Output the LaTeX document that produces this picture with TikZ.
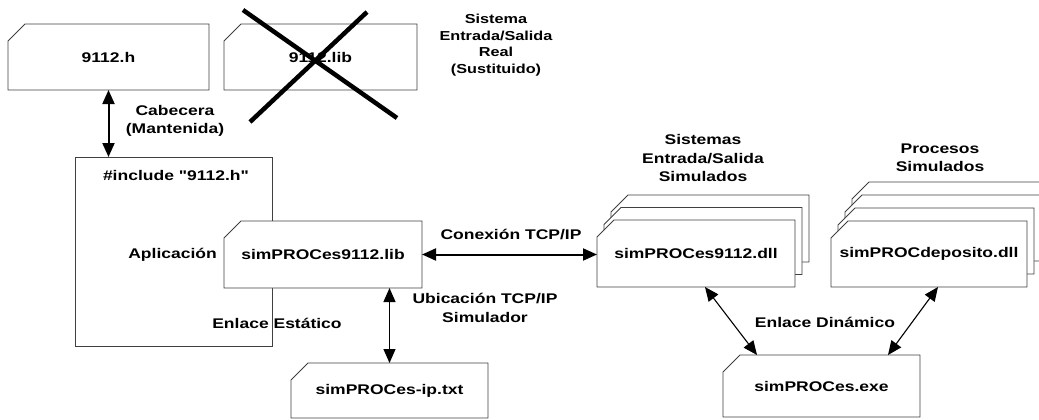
\documentclass[tikz,border=0pt]{standalone}
\usepackage{fontspec}
\setmainfont{Liberation Sans}
\newfontfamily\widefont[FakeStretch=1.25]{Liberation Sans}
\usetikzlibrary{arrows.meta,calc}

\tikzset{
  boxline/.style={draw=black!75, line width=0.9pt, fill=white},
  boxarea/.style={inner sep=0pt, outer sep=0pt},
  lbl/.style={font=\widefont\bfseries\fontsize{14}{18.5}\selectfont, align=center, inner sep=0pt},
  reallbl/.style={font=\widefont\bfseries\fontsize{13}{16.5}\selectfont, align=center, inner sep=0pt},
  bothtips/.style={{Triangle[length=14pt,width=12pt]}-{Triangle[length=14pt,width=12pt]}},
  thickarrow/.style={bothtips, line width=2pt},
  thinarrow/.style={bothtips, line width=1.1pt},
  crossline/.style={line width=4.5pt, line cap=butt},
}
% name, x1, y1, x2, y2, text
\newcommand\chbox[6]{%
  \path[boxline] (#2,#3+17) -- (#2+17,#3) -- (#4,#3) -- (#4,#5) -- (#2,#5) -- cycle;
  \node[boxarea, lbl, minimum width={#4-#2}, minimum height={#5-#3}] (#1) at ({(#2+#4)/2},{(#3+#5)/2}) {#6};}

\begin{document}
\begin{tikzpicture}[x=1pt,y=-1pt]
\useasboundingbox (0,0) rectangle (1039,420);
\clip (0,0) rectangle (1039,420);

% top boxes
\chbox{h}{8}{24}{209}{90}{9112.h}
\chbox{rlib}{224}{24}{417}{90}{9112.lib}
\draw[crossline] (243,10) -- (397,118);
\draw[crossline] (367,12) -- (250,122);
\node[reallbl] (real) at (496,45) {Sistema\\Entrada/Salida\\Real\\(Sustituido)};

% application
\node[boxarea, draw=black!75, line width=0.9pt, minimum width=197pt, minimum height=189pt] (app) at (173.5,251.5) {};
\node[lbl] (inc) at (176,175) {\#include "9112.h"};
\node[lbl, anchor=east] (apl) at (217,255) {Aplicación};
\chbox{lib}{224}{221}{422}{288}{simPROCes9112.lib}

% stack 1
\chbox{d3}{611}{195}{809}{262}{}
\chbox{d2}{604}{207.5}{802}{274.5}{}
\chbox{d1}{597}{220}{795}{287}{simPROCes9112.dll}
\node[lbl] (sims) at (703,158) {Sistemas\\Entrada/Salida\\Simulados};

% stack 2
\chbox{p4}{852}{182}{1048}{248}{}
\chbox{p3}{845}{195}{1041}{261}{}
\chbox{p2}{838}{208}{1034}{274}{}
\chbox{p1}{831}{221}{1027}{287}{simPROCdeposito.dll}
\node[lbl] (procs) at (940,158) {Procesos\\Simulados};

% bottom boxes
\chbox{ip}{291}{363}{488}{418}{simPROCes-ip.txt}
\chbox{exe}{723}{355}{920}{417}{simPROCes.exe}

% connectors
\draw[thickarrow] (h.south) -- (h.south |- app.north);
\node[lbl] (cab) at (175,121) {Cabecera\\(Mantenida)};
\draw[thickarrow] (lib.east) -- (lib.east -| d1.west);
\node[lbl] (con) at (511,235) {Conexión TCP/IP};
\draw[thinarrow, line width=1.3pt] (ip.north) -- (ip.north |- lib.south);
\node[lbl] (ubic) at (485,308) {Ubicación TCP/IP\\Simulador};
\node[lbl] (enlest) at (277,323) {Enlace Estático};
\draw[thinarrow] ([xshift=9pt]d1.south) -- ([xshift=-64.5pt]exe.north);
\draw[thinarrow] ([xshift=9pt]p1.south) -- ([xshift=66.5pt]exe.north);
\node[lbl] (enldin) at (825,322) {Enlace Dinámico};
\end{tikzpicture}
\end{document}
